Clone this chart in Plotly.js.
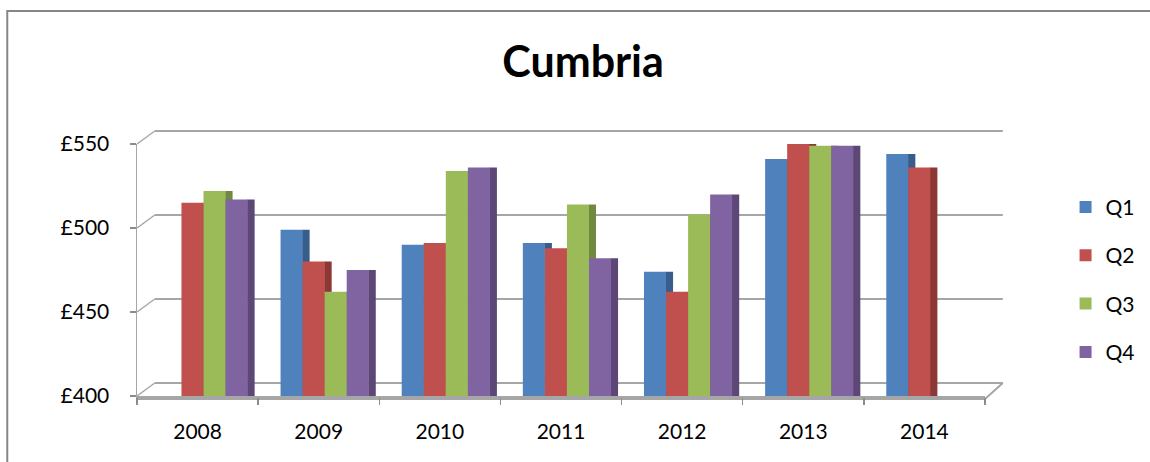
<!DOCTYPE html>
<html>
<head>
<meta charset="utf-8">
<script src="https://cdn.plot.ly/plotly-3.0.1.min.js"></script>
<style>html,body{margin:0;padding:0;background:#fff;}#chart{width:1150px;height:462px;}</style>
</head>
<body>
<div id="chart"></div>
<script>
const years = ["2008", "2009", "2010", "2011", "2012", "2013", "2014"];
const seriesNames = ["Q1", "Q2", "Q3", "Q4"];
const seriesColors = ["#4F81BD", "#C0504D", "#9BBB59", "#8064A2"];
const sideColors = ["#385D8A", "#8C3836", "#71893F", "#5C4776"];
const q1 = [null, 499, 490, 491, 474, 541, 544];
const q2 = [515, 480, 491, 488, 462, 551, 536];
const q3 = [522, 462, 534, 514, 508, 549, null];
const q4 = [517, 475, 536, 482, 520, 549, null];
const yTicks = [400, 450, 500, 550];
const yTickLabels = ["£400", "£450", "£500", "£550"];
const yRange = [400, 550];

const values = [q1, q2, q3, q4];
const FONT = "Lato, 'Open Sans', sans-serif";
const GRID = "#A6A6A6";

const barW = 0.182;
const groupStart = -0.365 + 0.05;
const sideW = 0.062;

const sideTraces = values.map((v, i) => ({
  type: "bar", x: years, y: v, showlegend: false, hoverinfo: "skip",
  width: sideW, offset: groupStart + (i + 1) * barW - 0.004,
  marker: {color: sideColors[i], line: {width: 0}}
}));
const frontTraces = values.map((v, i) => ({
  type: "bar", name: seriesNames[i], x: years, y: v,
  legendgroup: seriesNames[i],
  width: barW, offset: groupStart + i * barW,
  marker: {color: seriesColors[i], line: {width: 0}},
  hoverinfo: "x+y+name"
}));

const yPaper = t => (t - yRange[0]) / (yRange[1] - yRange[0]);
const depthX = 0.021;
const depthY = 13;
const shapes = [];
yTicks.forEach(t => {
  shapes.push({type: "line", layer: "below", xref: "paper", yref: "paper",
    ysizemode: "pixel", yanchor: yPaper(t), x0: depthX, x1: 1 + depthX, y0: depthY, y1: depthY,
    line: {color: GRID, width: 2}});
  shapes.push({type: "line", layer: "below", xref: "paper", yref: "paper",
    ysizemode: "pixel", yanchor: yPaper(t), x0: 0, x1: depthX, y0: 0, y1: depthY,
    line: {color: GRID, width: 1.5}});
});
shapes.push({type: "line", layer: "below", xref: "paper", yref: "paper",
  ysizemode: "pixel", yanchor: 0, x0: 1, x1: 1 + depthX, y0: -3, y1: depthY,
  line: {color: GRID, width: 2}});
shapes.push({type: "line", layer: "below", xref: "paper", yref: "paper",
  ysizemode: "pixel", yanchor: 0, x0: 0, x1: 1, y0: -3, y1: -3,
  line: {color: GRID, width: 2}});
shapes.push({type: "rect", layer: "below", xref: "paper", yref: "paper",
  x0: -0.153, x1: 1.3, y0: -0.5, y1: 1.528,
  line: {color: "#868686", width: 2}, fillcolor: "rgba(0,0,0,0)"});

const layout = {
  width: 1150, height: 462,
  margin: {l: 137, r: 165, t: 144, b: 66, autoexpand: false},
  paper_bgcolor: "#ffffff",
  plot_bgcolor: "rgba(0,0,0,0)",
  font: {family: FONT, size: 21, color: "#000000"},
  title: {text: "<b>Cumbria</b>", font: {family: FONT, size: 43, color: "#000"},
    x: 0.507, xanchor: "center", y: 0.866, yanchor: "middle", yref: "container"},
  barmode: "overlay",
  showlegend: true,
  legend: {x: 1.095, xanchor: "left", y: 0.83, yanchor: "top",
    font: {family: FONT, size: 21}, tracegroupgap: 18, itemwidth: 30,
    bgcolor: "rgba(0,0,0,0)"},
  xaxis: {type: "category", showgrid: false, zeroline: false, automargin: false,
    showline: true, linecolor: GRID, linewidth: 1.5,
    ticks: "outside", tickson: "boundaries", ticklen: 7, tickcolor: "#8C8C8C", tickwidth: 1.5,
    ticklabelstandoff: 16,
    tickfont: {family: FONT, size: 21}, fixedrange: true},
  yaxis: {range: yRange, showgrid: false, zeroline: false, automargin: false,
    showline: true, linecolor: GRID, linewidth: 1.5,
    tickvals: yTicks, ticktext: yTickLabels,
    ticks: "outside", ticklen: 6, tickcolor: "#8C8C8C", tickwidth: 1.5,
    ticklabelstandoff: 16,
    tickfont: {family: FONT, size: 21}, fixedrange: true},
  shapes: shapes
};

Plotly.newPlot("chart", sideTraces.concat(frontTraces), layout, {displayModeBar: false, staticPlot: true});
</script>
</body>
</html>
